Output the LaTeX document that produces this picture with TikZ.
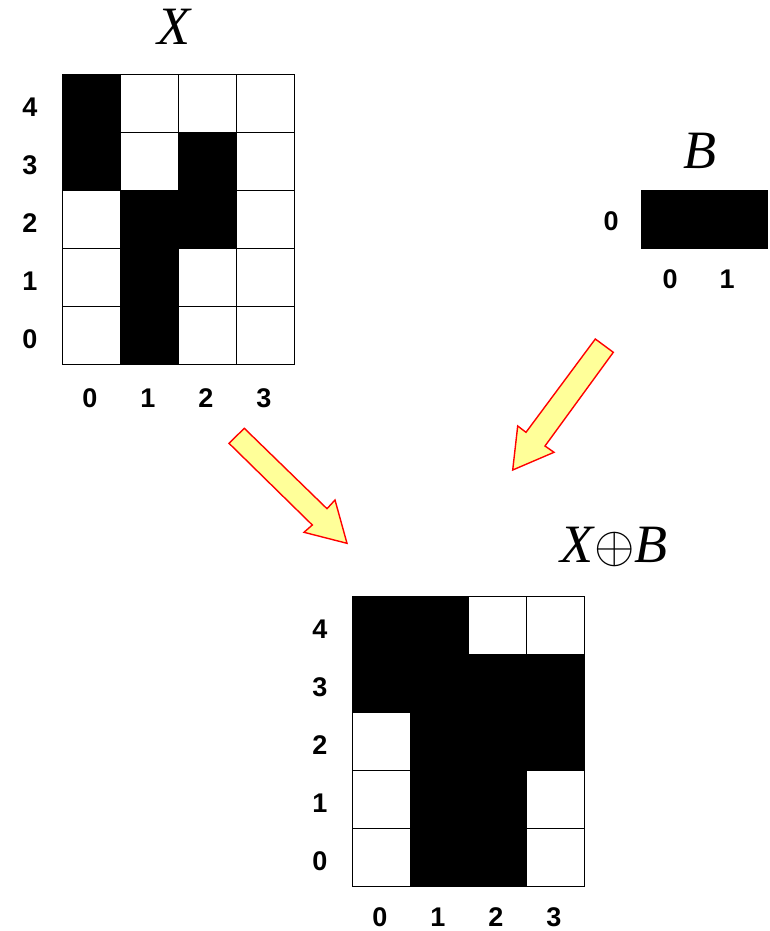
\RequirePackage{fix-cm}
\documentclass[tikz,border=0pt]{standalone}
\usepackage{fontspec}
\setmainfont{Liberation Serif}
\newfontfamily\labfont{Liberation Sans}
\begin{document}
\begin{tikzpicture}[x=1pt,y=-1pt,
 cell/.style={draw=black, line width=0.8pt, minimum width=58pt, minimum height=58pt, inner sep=0pt, outer sep=0pt, anchor=north west},
 oncell/.style={cell, fill=black},
 offcell/.style={cell, fill=white},
 lbl/.style={font=\labfont\bfseries\fontsize{27}{27}\selectfont, inner sep=0pt},
 ttl/.style={font=\itshape\fontsize{54}{54}\selectfont, inner sep=0pt},
 bigarrow/.style={draw=red, fill={rgb,255:red,255;green,255;blue,153}, line width=1.4pt, line join=miter}]
\useasboundingbox (0,0) rectangle (770,931);

% ---- X grid ----
\foreach \c/\r/\f in {0/4/on,1/4/off,2/4/off,3/4/off,
                      0/3/on,1/3/off,2/3/on,3/3/off,
                      0/2/off,1/2/on,2/2/on,3/2/off,
                      0/1/off,1/1/on,2/1/off,3/1/off,
                      0/0/off,1/0/on,2/0/off,3/0/off}
  \node[\f cell] (x-\c-\r) at ({62+58*\c},{74+58*(4-\r)}) {};
\foreach \r in {0,...,4}
  \node[lbl] (xr\r) at (30,{107+58*(4-\r)}) {\r};
\foreach \c in {0,...,3}
  \node[lbl] (xc\c) at ({90+58*\c},398) {\c};
\node[ttl] (xt) at (174,27) {X};

% ---- B ----
\node[draw=black, fill=black, line width=0.8pt, minimum width=126pt, minimum height=58pt, inner sep=0pt, anchor=north west] (b) at (641,190) {};
\node[lbl] (br0) at (611,221) {0};
\node[lbl] (bc0) at (670,279) {0};
\node[lbl] (bc1) at (727,279) {1};
\node[ttl] (bt) at (700,151) {B};

% ---- Result grid ----
\foreach \c/\r/\f in {0/4/on,1/4/on,2/4/off,3/4/off,
                      0/3/on,1/3/on,2/3/on,3/3/on,
                      0/2/off,1/2/on,2/2/on,3/2/on,
                      0/1/off,1/1/on,2/1/on,3/1/off,
                      0/0/off,1/0/on,2/0/on,3/0/off}
  \node[\f cell] (y-\c-\r) at ({352+58*\c},{596+58*(4-\r)}) {};
\foreach \r in {0,...,4}
  \node[lbl] (yr\r) at (320,{629+58*(4-\r)}) {\r};
\foreach \c in {0,...,3}
  \node[lbl] (yc\c) at ({380+58*\c},917) {\c};
\node[ttl] (yt) at (614,547) {X\kern1pt{\upshape\fontsize{52}{52}\selectfont$\oplus$}\kern0pt B};

% ---- arrows ----
\draw[bigarrow] (244.3,428.3) -- (327,508.7) -- (335,500) -- (347,543.3) -- (304,532.3) -- (312.3,525) -- (229,443.3) -- cycle;
\draw[bigarrow] (595.3,339) -- (613.3,352.3) -- (545,446) -- (554,452.3) -- (512.7,470) -- (517.7,426) -- (526,432.3) -- cycle;
\end{tikzpicture}
\end{document}
